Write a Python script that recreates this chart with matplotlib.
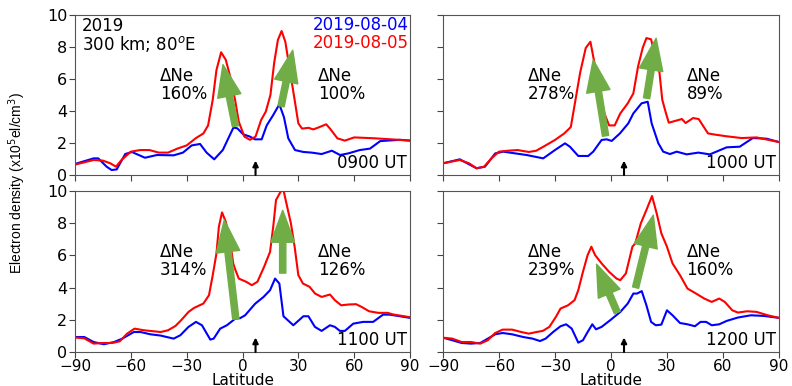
import matplotlib
matplotlib.use('Agg')
import matplotlib.pyplot as plt

# --- data (latitude, Ne in 1e5 el/cm3) ---
lat_0900_b = [-90, -80, -77.5, -73, -70.3, -67.6, -63, -59.5, -52.4, -46, -37, -32, -27.3, -22.8, -19.3, -15.2,
              -10.6, -4.9, -2.8, 0.4, 4, 6.7, 10.3, 13, 16.5, 19.8, 22.3, 24.6, 28.2, 32.7, 37.2, 42.5, 48, 52.4,
              56.8, 63, 68.5, 74, 84.6, 90]
ne_0900_b = [0.69, 1.04, 1.04, 0.52, 0.31, 0.35, 1.31, 1.44, 1.08, 1.25, 1.23, 1.4, 1.85, 1.94, 1.4, 0.98,
             1.56, 2.96, 2.92, 2.54, 2.4, 2.23, 2.23, 3.1, 3.75, 4.42, 3.6, 2.29, 1.56, 1.44, 1.4, 1.31, 1.52, 1.25,
             1.35, 1.56, 1.65, 2.12, 2.2, 2.15]
lat_0900_r = [-90, -80, -75, -71, -68, -65, -60, -55, -50, -45, -40, -35, -30, -25, -21, -18.5, -16, -14, -11.5,
              -9, -6.5, -4, -2, 1, 4, 7, 10, 12.5, 15, 17, 19, 21, 23, 26, 28, 30, 32, 35.5, 38, 41, 45, 47, 51, 55,
              60, 70, 80, 90]
ne_0900_r = [0.65, 0.94, 0.9, 0.73, 0.52, 0.94, 1.46, 1.56, 1.56, 1.4, 1.4, 1.65, 1.85, 2.31, 2.6, 3.1, 4.7, 6.56,
             7.67, 7.2, 6.1, 4.7, 3.33, 2.4, 2.2, 2.4, 3.44, 3.96, 5.0, 7.0, 8.44, 9.0, 8.33, 6.15, 4.7, 3.23, 2.9,
             2.95, 2.85, 2.98, 3.17, 2.9, 2.29, 2.15, 2.35, 2.3, 2.23, 2.15]

lat_1000_b = [-90, -81, -72, -67.5, -62, -57.7, -45.2, -36.3, -30, -24.6, -22, -17.5, -12.2, -9.5, -5, -2.3, 0.4,
              4.8, 9.3, 12, 16.4, 19.7, 21.8, 25.4, 28, 31.6, 35.2, 40.6, 46.8, 53, 62, 69, 76, 83.4, 90]
ne_1000_b = [0.73, 0.98, 0.42, 0.52, 1.35, 1.46, 1.25, 1.04, 1.56, 1.98, 1.77, 1.19, 1.19, 1.46, 2.19, 2.23, 2.13,
             2.6, 3.23, 3.85, 4.48, 4.58, 3.23, 1.98, 1.46, 1.31, 1.46, 1.29, 1.4, 1.29, 1.73, 1.77, 2.31, 2.27, 2.06]
lat_1000_r = [-90, -81, -76, -72, -68, -64, -60, -55, -50, -44, -40, -35, -30, -25, -21.5, -19, -16.5, -13.5, -11,
              -9, -6, -3.5, -1, 2, 5, 9, 12, 14.5, 17, 19, 21.5, 24, 26, 27.5, 29.5, 31, 35, 38, 40, 44, 47, 52, 56,
              62, 70, 78, 90]
ne_1000_r = [0.73, 0.94, 0.73, 0.42, 0.52, 1.04, 1.46, 1.52, 1.56, 1.44, 1.52, 1.85, 2.19, 2.6, 3.0, 4.7, 6.4, 7.94,
             8.33, 7.1, 5.1, 3.85, 3.1, 3.1, 3.85, 4.48, 5.1, 6.77, 7.94, 8.56, 8.48, 7.3, 6.4, 4.7, 3.85, 3.27, 3.4,
             3.5, 3.25, 3.56, 3.5, 2.6, 2.52, 2.42, 2.31, 2.35, 2.06]

lat_1100_b = [-90, -85, -80, -74.5, -69, -64.6, -58.4, -54.8, -49.5, -44, -37, -33.4, -29, -25, -21.8, -17.3, -15.5,
              -12, -8.4, -3.9, -1.3, 1.4, 6.8, 11.3, 14.8, 17.5, 19.8, 22, 27.3, 32.7, 35.4, 38.9, 42.5, 47, 49.6,
              52.3, 55, 59.5, 64.8, 70.2, 75.5, 79.1, 90]
ne_1100_b = [0.93, 0.93, 0.62, 0.48, 0.62, 0.83, 1.24, 1.24, 1.1, 1.02, 0.83, 1.04, 1.56, 1.87, 1.66, 0.77, 0.83,
             1.45, 1.66, 2.07, 2.1, 2.28, 3.0, 3.42, 3.84, 4.56, 4.25, 2.22, 1.66, 2.22, 2.22, 1.56, 1.31, 1.66, 1.56,
             1.31, 1.31, 1.76, 1.87, 1.87, 2.32, 2.32, 2.12]
lat_1100_r = [-90, -85, -80, -75, -70, -66, -62, -58, -53, -48, -44, -40, -36, -33, -29, -26, -21, -18, -16, -14,
              -12.7, -11, -9, -7, -5, -3.9, -2, 2, 5, 8, 11.6, 14.8, 16.5, 18, 20.5, 22, 24, 26, 28, 30, 32.5, 36, 39,
              42.5, 47, 49.6, 53, 57, 61, 64, 68, 73, 78, 81, 90]
ne_1100_r = [0.9, 0.85, 0.52, 0.56, 0.56, 0.66, 1.14, 1.45, 1.35, 1.29, 1.24, 1.35, 1.62, 1.97, 2.49, 2.74, 3.01,
             3.53, 4.77, 6.12, 7.78, 8.67, 8.09, 7.16, 5.5, 5.12, 4.56, 4.36, 4.15, 4.36, 5.29, 6.22, 7.78, 9.44, 9.96,
             10.06, 9.02, 7.99, 6.54, 4.77, 4.25, 4.05, 3.63, 3.42, 3.57, 3.22, 2.9, 2.95, 2.97, 2.8, 2.53, 2.43, 2.43,
             2.33, 2.16]

lat_1200_b = [-90, -85, -80, -75, -70, -66, -62, -58, -53, -47, -42, -38, -35, -31, -27, -24, -21, -17.5, -15, -12.5,
              -10, -8, -5, 0, 5, 9, 12, 14, 16.5, 19, 21.5, 24, 27, 30, 33, 37, 41, 45, 48, 51, 54, 58, 62, 68, 75,
              82, 90]
ne_1200_b = [0.89, 0.73, 0.56, 0.52, 0.56, 0.83, 1.1, 1.18, 1.1, 0.93, 0.83, 0.68, 0.83, 1.24, 1.6, 1.72, 1.45, 0.58,
             0.73, 1.24, 1.72, 1.41, 1.56, 2.01, 2.49, 3.01, 3.63, 3.63, 3.78, 2.9, 1.87, 1.66, 1.7, 2.59, 2.28, 1.8,
             1.72, 1.6, 1.87, 1.87, 1.66, 1.72, 1.93, 2.14, 2.28, 2.24, 2.12]
lat_1200_r = [-90, -85, -80, -75, -70, -66, -62, -58, -53, -48, -44, -40, -36.5, -33, -29.5, -27, -23, -19.5, -17.5,
              -15, -12.5, -10.5, -8.5, -5, -1, 3, 5, 8, 11.5, 13, 16, 19, 22, 24.5, 27, 30, 33, 37, 41, 45, 50, 54, 58,
              61, 65, 68, 73, 78, 84, 90]
ne_1200_r = [0.89, 0.83, 0.62, 0.62, 0.52, 0.73, 1.18, 1.39, 1.39, 1.24, 1.14, 1.24, 1.31, 1.56, 2.18, 2.7, 2.9, 3.22,
             3.84, 4.98, 6.02, 6.54, 6.02, 5.5, 4.98, 4.56, 4.46, 4.88, 6.54, 6.74, 7.99, 8.82, 9.69, 8.61, 7.37, 6.54,
             5.5, 4.77, 3.94, 3.67, 3.32, 3.11, 3.32, 3.11, 2.59, 2.45, 2.53, 2.49, 2.28, 2.12]

ut_labels = ['0900 UT', '1000 UT', '1100 UT', '1200 UT']
dne_south = ['160%', '278%', '314%', '239%']
dne_north = ['100%', '89%', '126%', '160%']
# green arrows: (tail lat, tail ne, tip lat, tip ne) for south / north crest
arrows_south = [(-3.8, 3.05, -10.5, 6.9), (-2.9, 2.45, -9.5, 7.2), (-3.6, 2.05, -9.8, 8.2), (3.4, 2.45, -7.7, 5.45)]
arrows_north = [(20.7, 4.3, 27.0, 7.8), (19.1, 4.8, 24.2, 8.55), (21.6, 4.9, 21.6, 8.8), (13.2, 4.0, 22.7, 8.5)]
xticks = [-90, -60, -30, 0, 30, 60, 90]
yticks = [0, 2, 4, 6, 8, 10]
station_lat = 7.0

panels = [(lat_0900_b, ne_0900_b, lat_0900_r, ne_0900_r),
          (lat_1000_b, ne_1000_b, lat_1000_r, ne_1000_r),
          (lat_1100_b, ne_1100_b, lat_1100_r, ne_1100_r),
          (lat_1200_b, ne_1200_b, lat_1200_r, ne_1200_r)]

fig = plt.figure(figsize=(7.92, 3.86), dpi=100)
boxes = [[0.0947, 0.5466, 0.423, 0.4145], [0.5593, 0.5466, 0.4242, 0.4145],
         [0.0947, 0.0881, 0.423, 0.4171], [0.5593, 0.0881, 0.4242, 0.4171]]
green = '#70ad47'
fs = 12

for i, (lb, nb, lr, nr) in enumerate(panels):
    ax = fig.add_axes(boxes[i])
    ax.plot(lb, nb, color='#0000ff', lw=1.5)
    ax.plot(lr, nr, color='#ff0000', lw=1.5)
    ax.set_xlim(-90, 90)
    ax.set_ylim(0, 10)
    ax.set_xticks(xticks)
    ax.set_yticks(yticks)
    ax.tick_params(labelsize=11.5, color='#444444', length=4, pad=1.5)
    ax.tick_params(axis='x', labelsize=11, pad=1)
    for sp in ax.spines.values():
        sp.set_color('#555555')
    if i % 2 == 1:
        ax.set_yticklabels([])
    if i < 2:
        ax.set_xticklabels([])
    else:
        ax.set_xlabel('Latitude', fontsize=11)
        ax.xaxis.set_label_coords(0.5, -0.128)

    for (x0, y0, x1, y1) in (arrows_south[i], arrows_north[i]):
        ax.annotate('', xy=(x1, y1), xytext=(x0, y0),
                    arrowprops=dict(arrowstyle='simple,head_width=1.7,head_length=2.3,tail_width=0.45',
                                    color=green, mutation_scale=10, shrinkA=0, shrinkB=0))

    ax.text(-44.5, 6.75, '\u0394Ne\n' + dne_south[i], fontsize=fs, va='top', ha='left', linespacing=1.0)
    ax.text(40.5, 6.75, '\u0394Ne\n' + dne_north[i], fontsize=fs, va='top', ha='left', linespacing=1.0)
    ax.text(0.99, 0.02, ut_labels[i], transform=ax.transAxes, fontsize=fs, ha='right', va='bottom')
    ax.annotate('', xy=(station_lat, 0.9), xytext=(station_lat, 0),
                arrowprops=dict(arrowstyle='-|>', color='k', lw=1.5, mutation_scale=8, shrinkA=0, shrinkB=0))

    if i == 0:
        ax.text(0.02, 0.99, '2019\n300 km; 80$^o$E', transform=ax.transAxes, fontsize=fs,
                va='top', ha='left', linespacing=0.95)
        ax.text(0.995, 0.995, '2019-08-04', transform=ax.transAxes, fontsize=fs, color='#0000ff',
                va='top', ha='right')
        ax.text(0.995, 0.88, '2019-08-05', transform=ax.transAxes, fontsize=fs, color='#ff0000',
                va='top', ha='right')

fig.text(0.022, 0.527, 'Electron density (x10$^5$el/cm$^3$)', rotation=90, fontsize=10,
         family='Liberation Sans', va='center', ha='center')

fig.savefig('out.png', dpi=100)
